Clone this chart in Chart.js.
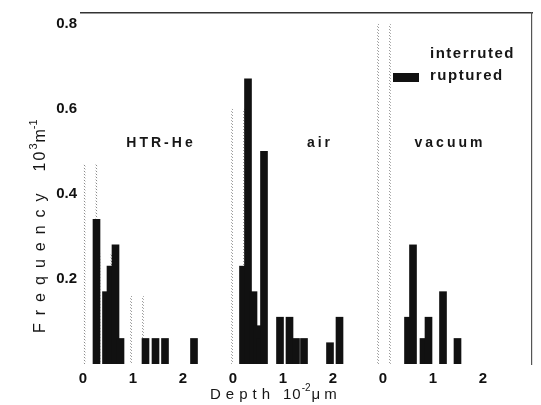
<!DOCTYPE html>
<html>
<head>
<meta charset="utf-8">
<script src="https://cdn.jsdelivr.net/npm/chart.js@4.4.1/dist/chart.umd.min.js"></script>
<style>
  html, body { margin: 0; padding: 0; background: #fff; }
</style>
</head>
<body>
<canvas id="chart" width="541" height="405"></canvas>
<script>
// depth in 10^-2 um, frequency in 10^3 m^-1
const panelNames = ["HTR-He", "air", "vacuum"];
const depthTicks = [0, 1, 2];
const freqTicks = [0.2, 0.4, 0.6, 0.8];

const htrRupDepth = [0.27, 0.46, 0.55, 0.65, 0.75, 1.25, 1.45, 1.64, 2.22];
const htrRupFreq  = [0.34, 0.17, 0.23, 0.28, 0.06, 0.06, 0.06, 0.06, 0.06];
const airRupDepth = [0.2, 0.3, 0.41, 0.49, 0.55, 0.62, 0.94, 1.13, 1.26, 1.42, 1.94, 2.13];
const airRupFreq  = [0.23, 0.67, 0.17, 0.09, 0.06, 0.50, 0.11, 0.11, 0.06, 0.06, 0.05, 0.11];
const vacRupDepth = [0.5, 0.6, 0.81, 0.91, 1.2, 1.49];
const vacRupFreq  = [0.11, 0.28, 0.06, 0.11, 0.17, 0.06];

const htrIntDepth = [0.15, 0.45, 1.08];
const htrIntFreq  = [0.47, 0.26, 0.16];
const airIntDepth = [0.1];
const airIntFreq  = [0.6];
const vacIntDepth = [0.02];
const vacIntFreq  = [0.8];

// each panel gets its own stretch of the depth axis
const SPAN = 3;
function toPoints(panels) {
  return panels.flatMap(([depth, freq], i) =>
    depth.map((d, k) => ({ x: d + i * SPAN, y: freq[k] })));
}

const canvas = document.getElementById("chart");
const ctx = canvas.getContext("2d");

// small diagonal dot tile, gives dotted outlines for the interrupted bars
const tile = document.createElement("canvas");
tile.width = 3; tile.height = 3;
const tctx = tile.getContext("2d");
tctx.fillStyle = "#8a8a8a";
tctx.fillRect(0, 0, 1, 1); tctx.fillRect(1, 1, 1, 1); tctx.fillRect(2, 2, 1, 1);
const dotted = ctx.createPattern(tile, "repeat");

const FONT = '"Liberation Sans", Arial, sans-serif';

function drawParts(c, parts) {
  let cx = 0;
  parts.forEach(p => {
    c.font = p.font + " " + FONT;
    c.letterSpacing = (p.ls || 0) + "px";
    c.fillText(p.text, cx, p.rise || 0);
    cx += c.measureText(p.text).width + (p.after || 0);
  });
}

const textLayer = {
  id: "textLayer",
  afterDraw(chart) {
    const { ctx: c, scales: { x, y } } = chart;
    c.save();
    c.fillStyle = "#161616";

    // panel names
    c.font = "bold 14px " + FONT;
    c.letterSpacing = "3px";
    c.textAlign = "center";
    c.textBaseline = "middle";
    const nameAt = [1.56, 1.74, 1.34];
    panelNames.forEach((n, i) => {
      c.fillText(n, x.getPixelForValue(nameAt[i] + i * SPAN), y.getPixelForValue(0.52));
    });

    // legend, interrupted first
    c.textAlign = "left";
    c.font = "bold 15px " + FONT;
    c.letterSpacing = "1.5px";
    const order = [1, 0];
    order.forEach((di, row) => {
      const ds = chart.data.datasets[di];
      const ty = 54 + row * 22;
      c.fillStyle = ds.backgroundColor;
      c.fillRect(393, ty - 3, 26, 9);
      c.fillStyle = "#161616";
      c.fillText(ds.label, 430, ty);
    });

    // axis titles
    c.textBaseline = "alphabetic";
    c.save();
    c.translate(45, 333);
    c.rotate(-Math.PI / 2);
    drawParts(c, [
      { text: "Frequency", font: "16px", ls: 8, after: 14 },
      { text: "10", font: "16px", ls: 2 },
      { text: "3", font: "11px", rise: -8, after: 1 },
      { text: "m", font: "16px" },
      { text: "-1", font: "11px", rise: -8 }
    ]);
    c.restore();

    c.save();
    c.translate(210, 399);
    drawParts(c, [
      { text: "Depth", font: "15px", ls: 5, after: 8 },
      { text: "10", font: "15px", ls: 1 },
      { text: "-2", font: "10px", rise: -8, after: 1 },
      { text: "\u03bcm", font: "15px", ls: 4 }
    ]);
    c.restore();
    c.restore();
  }
};

new Chart(ctx, {
  type: "bar",
  data: {
    datasets: [{
      label: "ruptured",
      data: toPoints([[htrRupDepth, htrRupFreq], [airRupDepth, airRupFreq], [vacRupDepth, vacRupFreq]]),
      backgroundColor: "#111111",
      borderWidth: 0,
      barThickness: 7,
      order: 0
    }, {
      label: "interruted",
      data: toPoints([[htrIntDepth, htrIntFreq], [airIntDepth, airIntFreq], [vacIntDepth, vacIntFreq]]),
      backgroundColor: "rgba(0,0,0,0)",
      borderColor: dotted,
      borderWidth: { left: 1, right: 1, top: 0, bottom: 0 },
      borderSkipped: false,
      barThickness: 13,
      order: 1
    }]
  },
  options: {
    responsive: false,
    animation: false,
    devicePixelRatio: 1,
    layout: { padding: { top: 5, right: 9, left: 0, bottom: 0 } },
    datasets: { bar: { grouped: false } },
    plugins: { legend: { display: false }, tooltip: { enabled: false } },
    scales: {
      x: {
        type: "linear",
        min: -0.04,
        max: 8.98,
        offset: false,
        afterBuildTicks: s => {
          s.ticks = panelNames.flatMap((_, i) => depthTicks.map(d => ({ value: d + i * SPAN })));
        },
        afterFit: s => { s.height = 41; },
        grid: { display: false, drawTicks: false },
        border: { display: false },
        ticks: {
          color: "#111",
          font: { size: 15, weight: "bold", family: FONT },
          padding: 6,
          maxRotation: 0,
          autoSkip: false,
          callback: v => String(Math.round(((v % SPAN) + SPAN) % SPAN))
        }
      },
      y: {
        min: 0,
        max: 0.825,
        afterBuildTicks: s => { s.ticks = freqTicks.map(v => ({ value: v })); },
        afterFit: s => { s.width = 81; },
        grid: { display: false, drawTicks: false },
        border: { display: false },
        ticks: {
          color: "#111",
          font: { size: 15, weight: "bold", family: FONT },
          padding: 4,
          callback: v => v.toFixed(1)
        }
      },
      x2: {
        type: "linear",
        position: "top",
        afterFit: s => { s.height = 0; },
        ticks: { display: false },
        grid: { display: false, drawTicks: false },
        border: { display: true, color: "#333", width: 1.5 }
      },
      y2: {
        type: "linear",
        position: "right",
        afterFit: s => { s.width = 0; },
        ticks: { display: false },
        grid: { display: false, drawTicks: false },
        border: { display: true, color: "#555", width: 1.2 }
      }
    }
  },
  plugins: [textLayer]
});
</script>
</body>
</html>
